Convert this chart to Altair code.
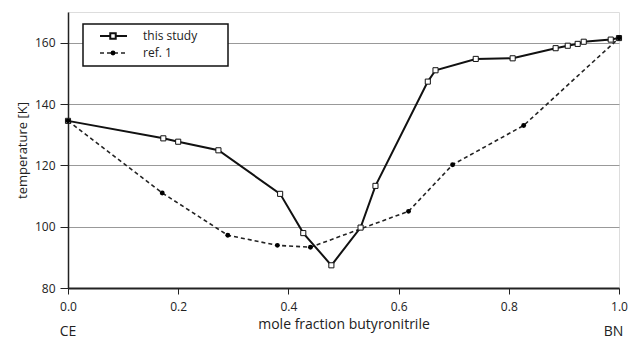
import altair as alt
import pandas as pd

# this study
study_x = [0.0, 0.173, 0.2, 0.273, 0.385, 0.427, 0.478, 0.531, 0.558, 0.653, 0.667,
           0.74, 0.807, 0.885, 0.907, 0.925, 0.936, 0.985, 1.0]
study_t = [134.5, 128.8, 127.7, 124.9, 110.7, 97.9, 87.4, 99.7, 113.3, 147.3, 151.0,
           154.7, 154.9, 158.2, 159.0, 159.6, 160.3, 161.0, 161.5]
# ref. 1
ref_x = [0.0, 0.171, 0.29, 0.38, 0.44, 0.618, 0.698, 0.827, 1.0]
ref_t = [134.5, 111.0, 97.2, 93.9, 93.3, 105.0, 120.2, 133.0, 161.5]

x_ticks = [0.0, 0.2, 0.4, 0.6, 0.8, 1.0]
y_ticks = [80, 100, 120, 140, 160]
end_labels = ["CE", "BN"]
end_x = [0.0, 0.99]
legend_labels = ["this study", "ref. 1"]

FONT = "Open Sans"

study = pd.DataFrame({"x": study_x, "t": study_t})
ref = pd.DataFrame({"x": ref_x, "t": ref_t})
ends = pd.DataFrame({"x": end_x, "label": end_labels})

xs = alt.Scale(domain=[0, 1], nice=False, zero=False)
ys = alt.Scale(domain=[80, 170], nice=False, zero=False)

X = alt.X("x:Q", scale=xs, axis=alt.Axis(values=x_ticks, format=".1f", grid=False,
          title="mole fraction butyronitrile", titlePadding=5, titleFontWeight="normal",
          titleFont=FONT, titleFontSize=14, labelFont=FONT, labelFontSize=12,
          labelColor="#222", titleColor="#222", domainColor="#222", domainWidth=2,
          tickColor="#222", tickSize=6, labelPadding=7, labelFlush=False))
Y = alt.Y("t:Q", scale=ys, axis=alt.Axis(values=y_ticks, grid=True, gridColor="#999",
          gridWidth=1, title="temperature [K]", titleFontWeight="normal", titleFont=FONT,
          titleFontSize=13, labelFont=FONT, labelFontSize=12, labelColor="#222",
          titleColor="#222", domainColor="#222", domainWidth=1.5, tickColor="#222",
          tickSize=8, labelPadding=5, titlePadding=5))

ref_line = alt.Chart(ref).mark_line(color="#222", strokeDash=[4, 3], strokeWidth=1.6).encode(x=X, y=Y)
ref_pts = alt.Chart(ref).mark_point(shape="circle", filled=True, color="#000", size=24, opacity=1).encode(x="x:Q", y="t:Q")
study_line = alt.Chart(study).mark_line(color="#111", strokeWidth=2).encode(x="x:Q", y="t:Q")
study_pts = alt.Chart(study).mark_point(shape="square", filled=True, fill="white",
                                        stroke="#111", strokeWidth=1, size=26, opacity=1).encode(x="x:Q", y="t:Q")

end_txt = alt.Chart(ends).mark_text(font=FONT, fontSize=14, color="#222", baseline="middle").encode(
    x="x:Q", y=alt.value(320), text="label:N")

# legend
leg_box = alt.Chart(pd.DataFrame({"a": [0]})).mark_rect(fill="white", stroke="#111", strokeWidth=1.5).encode(
    x=alt.value(15), x2=alt.value(160), y=alt.value(12), y2=alt.value(54))
leg_df = pd.DataFrame({"label": legend_labels, "yy": [24, 41]})
leg_line1 = alt.Chart(leg_df.iloc[[0]]).mark_rule(color="#111", strokeWidth=2).encode(
    x=alt.value(32), x2=alt.value(59), y=alt.value(24))
leg_line2 = alt.Chart(leg_df.iloc[[1]]).mark_rule(color="#222", strokeWidth=1.6, strokeDash=[4, 3]).encode(
    x=alt.value(32), x2=alt.value(59), y=alt.value(41))
leg_sq = alt.Chart(leg_df.iloc[[0]]).mark_point(shape="square", filled=True, fill="white", stroke="#111",
                                                size=30, opacity=1).encode(x=alt.value(45), y=alt.value(24))
leg_dot = alt.Chart(leg_df.iloc[[1]]).mark_point(shape="circle", filled=True, color="#000",
                                                 size=24, opacity=1).encode(x=alt.value(45), y=alt.value(41))
leg_txt = alt.Chart(leg_df).mark_text(font=FONT, fontSize=12, color="#222", align="left", baseline="middle").encode(
    x=alt.value(75), y=alt.Y("yy:Q", scale=None), text="label:N")

chart = alt.layer(ref_line, study_line, study_pts, ref_pts, end_txt,
                  leg_box, leg_line1, leg_line2, leg_sq, leg_dot, leg_txt).properties(
    width=551, height=276,
    autosize=alt.AutoSizeParams(type="none"),
    padding={"left": 68, "top": 12, "right": 10, "bottom": 51},
).configure_view(stroke="#111", strokeWidth=1.5).configure(background="white")

chart.save("out.html", embed_options={"renderer": "svg", "actions": False})
